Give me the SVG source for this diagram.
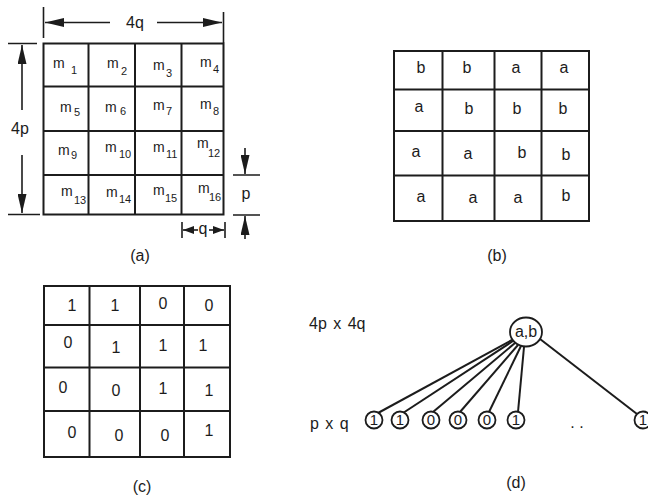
<svg xmlns="http://www.w3.org/2000/svg" width="648" height="497" viewBox="0 0 648 497">
<style>
text{font-family:"Liberation Sans",Arial,sans-serif;fill:#1c1c1c}
.t{font-size:16px;text-anchor:middle}
.l{font-size:16px;text-anchor:middle}
.n{font-size:15px;text-anchor:middle}
.m{font-size:14px}
.s{font-size:11px}
.g{fill:none;stroke:#1c1c1c;stroke-width:2}
.d{fill:none;stroke:#1c1c1c;stroke-width:1.6}
.c{fill:#fff;stroke:#1c1c1c;stroke-width:1.8}
.e{stroke:#1c1c1c;stroke-width:2;fill:none}
</style>
<defs>
<marker id="ah" markerUnits="userSpaceOnUse" markerWidth="20" markerHeight="9" refX="19" refY="4.5" orient="auto">
<path d="M0,0 L19,4.5 L0,9 z" fill="#1c1c1c"/>
</marker>
<marker id="ahs" markerUnits="userSpaceOnUse" markerWidth="12" markerHeight="8" refX="11" refY="4" orient="auto">
<path d="M0,0 L11,4 L0,8 z" fill="#1c1c1c"/>
</marker>
</defs>

<g id="panel-a">
<rect class="g" x="43.5" y="43.5" width="180" height="171"/>
<path class="g" d="M88.5,43.5V214.5M135,43.5V214.5M181.5,43.5V214.5M43.5,86.5H223.5M43.5,131H223.5M43.5,175H223.5"/>
<g id="dim-4q">
<path class="d" d="M43.5,7V38M223.5,12V43"/>
<line class="d" x1="110" y1="22.5" x2="45" y2="22.5" marker-end="url(#ah)"/>
<line class="d" x1="157" y1="22.5" x2="222" y2="22.5" marker-end="url(#ah)"/>
<text class="l" x="135" y="28">4q</text>
</g>
<g id="dim-4p">
<path class="d" d="M8,43.5H37M8,214.5H40"/>
<line class="d" x1="22" y1="110" x2="22" y2="45" marker-end="url(#ah)"/>
<line class="d" x1="22" y1="155" x2="22" y2="213" marker-end="url(#ah)"/>
<text class="l" x="20" y="134">4p</text>
</g>
<g id="dim-p">
<path class="d" d="M233,175H260M233,215H260"/>
<line class="d" x1="245" y1="148" x2="245" y2="174" marker-end="url(#ah)"/>
<line class="d" x1="245" y1="239" x2="245" y2="216" marker-end="url(#ah)"/>
<text class="l" x="246" y="199">p</text>
</g>
<g id="dim-q">
<path class="d" d="M182,222V238M225,222V238"/>
<line class="d" x1="198" y1="230" x2="183" y2="230" marker-end="url(#ahs)"/>
<line class="d" x1="209" y1="230" x2="224" y2="230" marker-end="url(#ahs)"/>
<text class="l" x="203" y="234">q</text>
</g>
<text class="m" x="53" y="68">m</text><text class="s" x="71" y="74">1</text>
<text class="m" x="107" y="68">m</text><text class="s" x="121" y="75">2</text>
<text class="m" x="153" y="70">m</text><text class="s" x="166" y="77">3</text>
<text class="m" x="200" y="67">m</text><text class="s" x="213" y="73">4</text>
<text class="m" x="60" y="112">m</text><text class="s" x="74" y="116">5</text>
<text class="m" x="105" y="112">m</text><text class="s" x="120" y="115">6</text>
<text class="m" x="153" y="110">m</text><text class="s" x="166" y="115">7</text>
<text class="m" x="200" y="109">m</text><text class="s" x="213" y="115">8</text>
<text class="m" x="58" y="155">m</text><text class="s" x="71" y="159">9</text>
<text class="m" x="105" y="152">m</text><text class="s" x="119" y="158">10</text>
<text class="m" x="153" y="152">m</text><text class="s" x="166" y="158">11</text>
<text class="m" x="197" y="148">m</text><text class="s" x="208" y="157">12</text>
<text class="m" x="61" y="196">m</text><text class="s" x="74" y="204">13</text>
<text class="m" x="106" y="197">m</text><text class="s" x="119" y="203">14</text>
<text class="m" x="153" y="195">m</text><text class="s" x="165" y="202">15</text>
<text class="m" x="198" y="193">m</text><text class="s" x="209" y="201">16</text>
<text class="l" x="140" y="261">(a)</text>
</g>

<g id="panel-b">
<rect class="g" x="394" y="51" width="195" height="170"/>
<path class="g" d="M442.5,51V221M494.5,51V221M541.5,51V221M394,89.5H589M394,131H589M394,175.5H589"/>
<text class="t" x="421" y="73">b</text><text class="t" x="467" y="73">b</text><text class="t" x="516" y="73">a</text><text class="t" x="564" y="73">a</text>
<text class="t" x="419" y="112">a</text><text class="t" x="469" y="114">b</text><text class="t" x="517" y="114">b</text><text class="t" x="563" y="114">b</text>
<text class="t" x="416" y="157">a</text><text class="t" x="468" y="159">a</text><text class="t" x="522" y="158">b</text><text class="t" x="566" y="160">b</text>
<text class="t" x="421" y="202">a</text><text class="t" x="473" y="203">a</text><text class="t" x="518" y="203">a</text><text class="t" x="566" y="201">b</text>
<text class="l" x="497" y="261">(b)</text>
</g>

<g id="panel-c">
<rect class="g" x="44" y="286" width="186" height="171"/>
<path class="g" d="M89.5,286V457M140,286V457M184,286V457M44,325H230M44,367.5H230M44,411H230"/>
<text class="t" x="72" y="311">1</text><text class="t" x="115" y="311">1</text><text class="t" x="163" y="309">0</text><text class="t" x="209" y="311">0</text>
<text class="t" x="68" y="348">0</text><text class="t" x="116" y="353">1</text><text class="t" x="163" y="351">1</text><text class="t" x="203" y="351">1</text>
<text class="t" x="63" y="393">0</text><text class="t" x="116" y="396">0</text><text class="t" x="163" y="394">1</text><text class="t" x="209" y="396">1</text>
<text class="t" x="72" y="438">0</text><text class="t" x="119" y="441">0</text><text class="t" x="165" y="441">0</text><text class="t" x="209" y="436">1</text>
<text class="l" x="142" y="492">(c)</text>
</g>

<g id="panel-d">
<text x="309" y="329" style="font-size:16px;word-spacing:2px">4p x 4q</text>
<text x="310" y="429" style="font-size:16px;word-spacing:2px">p x q</text>
<text class="t" x="577" y="428">. .</text>
<text class="l" x="516" y="488">(d)</text>
</g>

<g id="connectors">
<line class="e" x1="512" y1="340" x2="378" y2="413" stroke-width="3"/>
<line class="e" x1="513" y1="341" x2="403" y2="413"/>
<line class="e" x1="515" y1="343" x2="433" y2="412"/>
<line class="e" x1="518" y1="345" x2="460" y2="412"/>
<line class="e" x1="521" y1="346" x2="489" y2="412"/>
<line class="e" x1="524" y1="347" x2="518" y2="412"/>
<line class="e" x1="540" y1="339" x2="637" y2="414"/>
</g>

<g id="node-root"><ellipse class="c" cx="526" cy="332" rx="16" ry="14.5"/><text class="t" x="526" y="337">a,b</text></g>
<g id="leaf-1"><ellipse class="c" cx="374" cy="420" rx="8.5" ry="8.5"/><text class="n" x="374" y="425">1</text></g>
<g id="leaf-2"><ellipse class="c" cx="400" cy="420" rx="8.5" ry="8.5"/><text class="n" x="400" y="425">1</text></g>
<g id="leaf-3"><ellipse class="c" cx="431" cy="420" rx="8.5" ry="8.5"/><text class="n" x="431" y="425">0</text></g>
<g id="leaf-4"><ellipse class="c" cx="458" cy="420" rx="8.5" ry="8.5"/><text class="n" x="458" y="425">0</text></g>
<g id="leaf-5"><ellipse class="c" cx="487" cy="420" rx="8.5" ry="8.5"/><text class="n" x="487" y="425">0</text></g>
<g id="leaf-6"><ellipse class="c" cx="516" cy="420" rx="8.5" ry="8.5"/><text class="n" x="516" y="425">1</text></g>
<g id="leaf-n"><ellipse class="c" cx="643" cy="420" rx="8.5" ry="8.5"/><text class="n" x="643" y="425">1</text></g>
</svg>
